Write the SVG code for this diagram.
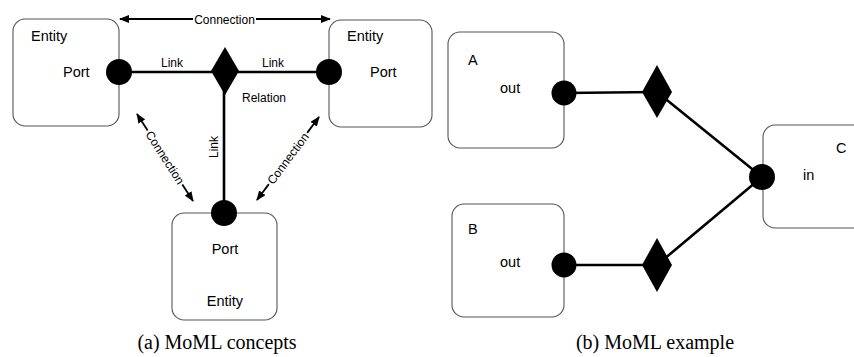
<svg xmlns="http://www.w3.org/2000/svg" width="854" height="357" viewBox="0 0 854 357">
  <style>
    .box { fill: none; stroke: #555; stroke-width: 1.1; }
    .port { fill: #000; }
    .rel { fill: #000; }
    .link { stroke: #000; stroke-width: 2.6; fill: none; }
    .conn { stroke: #000; stroke-width: 1.8; fill: none; }
    .lbl { font-family: "Liberation Sans", Arial, sans-serif; font-size: 14.5px; fill: #000; }
    .sm { font-family: "Liberation Sans", Arial, sans-serif; font-size: 12px; fill: #000; }
    .cap { font-family: "Liberation Serif", "Times New Roman", serif; font-size: 20px; fill: #000; }
  </style>
  <defs>
    <marker id="arr" viewBox="0 0 10 8" refX="9" refY="4" markerWidth="10" markerHeight="8" markerUnits="userSpaceOnUse" orient="auto-start-reverse">
      <path d="M0,0 L10,4 L0,8 Z" fill="#000"/>
    </marker>
  </defs>

  <!-- (a) concepts -->
  <g id="connectors-a">
    <line class="link" x1="119" y1="72" x2="329" y2="72"/>
    <line class="link" x1="224" y1="72" x2="224" y2="213"/>
    <text class="sm" x="172" y="67" text-anchor="middle">Link</text>
    <text class="sm" x="273" y="67" text-anchor="middle">Link</text>
    <text class="sm" transform="translate(218,147) rotate(-90)" text-anchor="middle">Link</text>
    <!-- top connection -->
    <line class="conn" x1="120" y1="19" x2="193" y2="19" marker-start="url(#arr)"/>
    <line class="conn" x1="256" y1="19" x2="330" y2="19" marker-end="url(#arr)"/>
    <text class="sm" x="224.5" y="23.5" text-anchor="middle">Connection</text>
    <!-- left diagonal connection -->
    <g transform="translate(165,157.5) rotate(57.2)">
      <line class="conn" x1="-51.7" y1="0" x2="-32" y2="0" marker-start="url(#arr)"/>
      <line class="conn" x1="32" y1="0" x2="51.7" y2="0" marker-end="url(#arr)"/>
      <text class="sm" x="0" y="4.2" text-anchor="middle">Connection</text>
    </g>
    <!-- right diagonal connection -->
    <g transform="translate(288,158.5) rotate(-53.2)">
      <line class="conn" x1="-51.8" y1="0" x2="-32" y2="0" marker-start="url(#arr)"/>
      <line class="conn" x1="32" y1="0" x2="51.8" y2="0" marker-end="url(#arr)"/>
      <text class="sm" x="0" y="4.2" text-anchor="middle">Connection</text>
    </g>
  </g>

  <g id="entity-left">
    <rect class="box" x="13" y="19" width="106" height="107" rx="12"/>
    <text class="lbl" x="31" y="41">Entity</text>
    <text class="lbl" x="63" y="76.5">Port</text>
    <circle class="port" cx="119" cy="72" r="13"/>
  </g>

  <g id="entity-right">
    <rect class="box" x="329" y="20" width="103" height="107" rx="12"/>
    <text class="lbl" x="347" y="41">Entity</text>
    <text class="lbl" x="370" y="76.5">Port</text>
    <circle class="port" cx="329" cy="72" r="13"/>
  </g>

  <g id="entity-bottom">
    <rect class="box" x="172" y="213" width="105" height="107" rx="12"/>
    <text class="lbl" x="225" y="254" text-anchor="middle">Port</text>
    <text class="lbl" x="225" y="306" text-anchor="middle">Entity</text>
    <circle class="port" cx="224" cy="213" r="13"/>
  </g>

  <g id="relation">
    <polygon class="rel" points="225,47 239,71 225,95 211,71"/>
    <text class="sm" x="242" y="102">Relation</text>
  </g>

  <text class="cap" x="217" y="349" text-anchor="middle">(a) MoML concepts</text>

  <!-- (b) example -->
  <g id="connectors-b">
    <line class="link" x1="564" y1="93" x2="657" y2="92"/>
    <line class="link" x1="657" y1="92" x2="762" y2="177"/>
    <line class="link" x1="564" y1="265" x2="657" y2="265"/>
    <line class="link" x1="657" y1="265" x2="762" y2="177"/>
  </g>

  <g id="entity-A">
    <rect class="box" x="448" y="32" width="116" height="116" rx="12"/>
    <text class="lbl" x="468" y="65">A</text>
    <text class="lbl" x="500" y="93">out</text>
    <circle class="port" cx="564" cy="93" r="12.5"/>
  </g>

  <g id="entity-B">
    <rect class="box" x="452" y="204" width="112" height="113" rx="12"/>
    <text class="lbl" x="468" y="234">B</text>
    <text class="lbl" x="500" y="267">out</text>
    <circle class="port" cx="564" cy="265" r="12.5"/>
  </g>

  <g id="entity-C">
    <rect class="box" x="763" y="125" width="110" height="103" rx="12"/>
    <text class="lbl" x="836" y="153">C</text>
    <text class="lbl" x="803" y="180">in</text>
    <circle class="port" cx="762" cy="177" r="13"/>
  </g>

  <g id="relation-A">
    <polygon class="rel" points="657,65 672,92 657,118 642,92"/>
  </g>
  <g id="relation-B">
    <polygon class="rel" points="657,238 672,265 657,292 642,265"/>
  </g>

  <text class="cap" x="655" y="349" text-anchor="middle">(b) MoML example</text>
</svg>
